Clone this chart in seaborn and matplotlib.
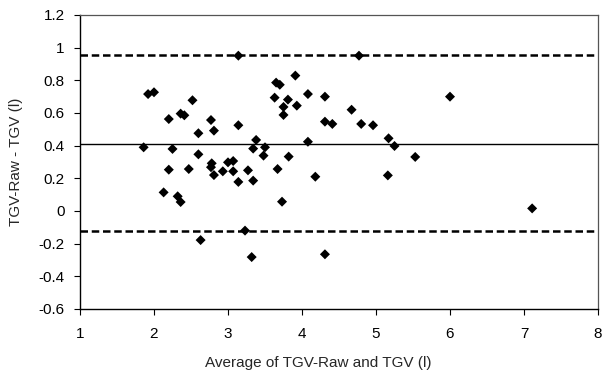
import matplotlib
matplotlib.use("Agg")
import matplotlib.pyplot as plt
import seaborn as sns
import pandas as pd

avg = [3.14, 1.92, 2.00, 2.52, 2.20, 2.36, 2.41, 2.77, 2.81, 2.60, 3.14, 1.86, 2.25,
       2.60, 2.20, 2.47, 2.78, 2.77, 2.81, 2.93, 3.00, 3.07, 3.07, 3.14, 3.27, 3.34,
       3.34, 3.38, 3.48, 3.50, 3.67, 3.82, 3.63, 3.65, 3.70, 3.81, 3.75, 3.75, 3.93,
       3.91, 4.08, 4.08, 4.18, 4.31, 4.31, 4.41, 3.73, 4.77, 4.67, 4.80, 4.96, 5.17,
       5.25, 5.53, 5.16, 6.00, 2.13, 2.32, 2.36, 3.23, 2.63, 3.32, 4.31, 7.11]
diff = [0.951, 0.716, 0.727, 0.678, 0.563, 0.596, 0.586, 0.557, 0.492, 0.476, 0.525, 0.39, 0.38,
        0.347, 0.253, 0.257, 0.292, 0.268, 0.22, 0.243, 0.298, 0.306, 0.243, 0.178, 0.249, 0.186,
        0.382, 0.435, 0.339, 0.39, 0.257, 0.333, 0.694, 0.786, 0.773, 0.682, 0.637, 0.588, 0.645,
        0.829, 0.716, 0.424, 0.21, 0.70, 0.547, 0.533, 0.057, 0.951, 0.62, 0.533, 0.525, 0.445,
        0.398, 0.331, 0.218, 0.70, 0.114, 0.09, 0.055, -0.12, -0.178, -0.282, -0.265, 0.016]

mean_diff = 0.41
upper_loa = 0.955
lower_loa = -0.122

x_ticks = [1, 2, 3, 4, 5, 6, 7, 8]
y_ticks = [-0.6, -0.4, -0.2, 0, 0.2, 0.4, 0.6, 0.8, 1, 1.2]
y_tick_labels = ["-0.6", "-0.4", "-0.2", "0", "0.2", "0.4", "0.6", "0.8", "1", "1.2"]

sns.set_style("white")
plt.rcParams['font.family'] = ['Liberation Sans', 'DejaVu Sans']

df = pd.DataFrame({"avg": avg, "diff": diff})

fig = plt.figure(figsize=(6.02, 3.75), dpi=100)
ax = fig.add_axes([80/602, 1-309/375, (598-80)/602, (309-15)/375])

ax.axhline(mean_diff, color="black", lw=1.0, zorder=1)
ax.axhline(upper_loa, color="black", lw=1.8, ls=(0, (3, 1.5)), zorder=1)
ax.axhline(lower_loa, color="black", lw=1.8, ls=(0, (3, 1.5)), zorder=1)

sns.scatterplot(data=df, x="avg", y="diff", marker="D", s=26, color="black",
                edgecolor="none", ax=ax, zorder=3, legend=False)

fs = 11
ax.set_xlim(1, 8)
ax.set_ylim(-0.6, 1.2)
ax.set_xticks(x_ticks)
ax.set_yticks(y_ticks)
ax.set_yticklabels(y_tick_labels)
ax.tick_params(axis="both", which="major", direction="out", length=4.5, width=0.8,
               colors="black", labelsize=fs, bottom=True, left=True)
ax.tick_params(axis="x", pad=8.5)
ax.tick_params(axis="y", pad=6.5)

for side in ["left", "bottom"]:
    ax.spines[side].set_color("black")
    ax.spines[side].set_linewidth(1.0)
for side in ["top", "right"]:
    ax.spines[side].set_color("#555555")
    ax.spines[side].set_linewidth(0.9)

ax.set_xlabel("Average of TGV-Raw and TGV (l)", fontsize=fs)
ax.xaxis.set_label_coords(0.46, -0.16)
ax.set_ylabel("TGV-Raw - TGV (l)", fontsize=fs, labelpad=11)

fig.savefig("out.png", dpi=100)
